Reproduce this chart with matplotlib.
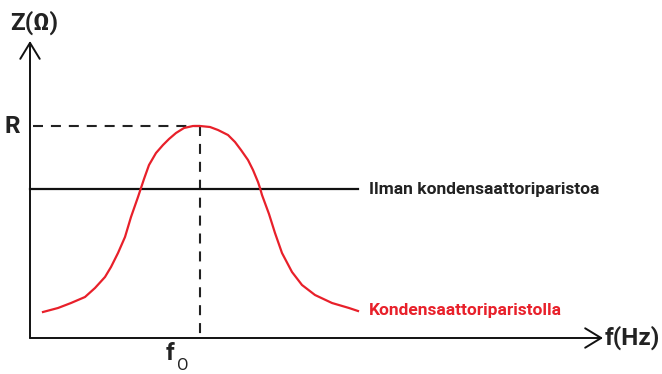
import matplotlib
matplotlib.use("Agg")
import matplotlib.pyplot as plt

# schematic drawn in picture units (x to the right, y downwards)
curve_x = [43, 58, 71, 85, 95, 105, 111, 118, 125, 131, 138,
           141, 144, 149, 156, 163, 169, 176, 184, 193, 200,
           210, 218, 228, 235, 241, 248, 253, 258, 260,
           262, 269, 275, 282, 292, 302, 315, 332, 349, 358]
curve_y = [312, 308, 303, 297, 288, 277, 267, 253, 237, 217, 197,
           188, 179, 165, 153, 145, 139, 133, 128, 126, 126,
           127, 130, 135, 142, 150, 160, 170, 182, 188,
           195, 214, 233, 253, 272, 285, 295, 303, 308, 311]

flat_x = [30, 358]
flat_y = [189, 189]

f0 = 200
R = 126
origin = (30, 338)
x_end = 603
y_end = 41

label_flat = "Ilman kondensaattoriparistoa"
label_curve = "Kondensaattoriparistolla"

red = "#e8202a"
ink = "#222222"
plt.rcParams['font.family'] = ['Roboto', 'DejaVu Sans']

fig = plt.figure(figsize=(6.62, 3.74), dpi=100)
ax = fig.add_axes([0, 0, 1, 1])
ax.set_xlim(0, 662)
ax.set_ylim(374, 0)
ax.axis('off')

# axes with open arrow heads
arrow = dict(arrowstyle='->,head_length=1.15,head_width=0.7', lw=1.4, color='#111111',
             shrinkA=0, shrinkB=0)
ax.annotate('', xy=(origin[0], y_end), xytext=origin, arrowprops=arrow)
ax.annotate('', xy=(x_end, origin[1]), xytext=origin, arrowprops=arrow)

# guide lines to the peak
dash = (0, (4.8, 3.8))
ax.plot([33, f0], [R, R], color=ink, lw=1.5, linestyle=dash)
ax.plot([f0, f0], [R, origin[1]], color=ink, lw=1.5, linestyle=dash)

ax.plot(flat_x, flat_y, color='#111111', lw=1.6)
ax.plot(curve_x, curve_y, color=red, lw=1.6, solid_joinstyle='round')

bold = dict(fontweight='bold', fontsize=12.5)
ax.text(369, flat_y[0], label_flat, color=ink, va='center', ha='left', **bold)
ax.text(369, curve_y[-1], label_curve, color=red, va='center', ha='left', **bold)

big = dict(fontweight='bold', fontsize=17.5, color=ink)
ax.text(10, 23, 'Z(Ω)', va='center', ha='left', **big)
ax.text(5, R, 'R', va='center', ha='left', **big)
ax.text(605, origin[1], 'f(Hz)', va='center', ha='left', **big)
ax.text(166, 353, 'f', va='center', ha='left', **big)
ax.text(177, 366, 'O', va='center', ha='left', fontsize=12, color=ink)

fig.savefig('out.png', dpi=100)
